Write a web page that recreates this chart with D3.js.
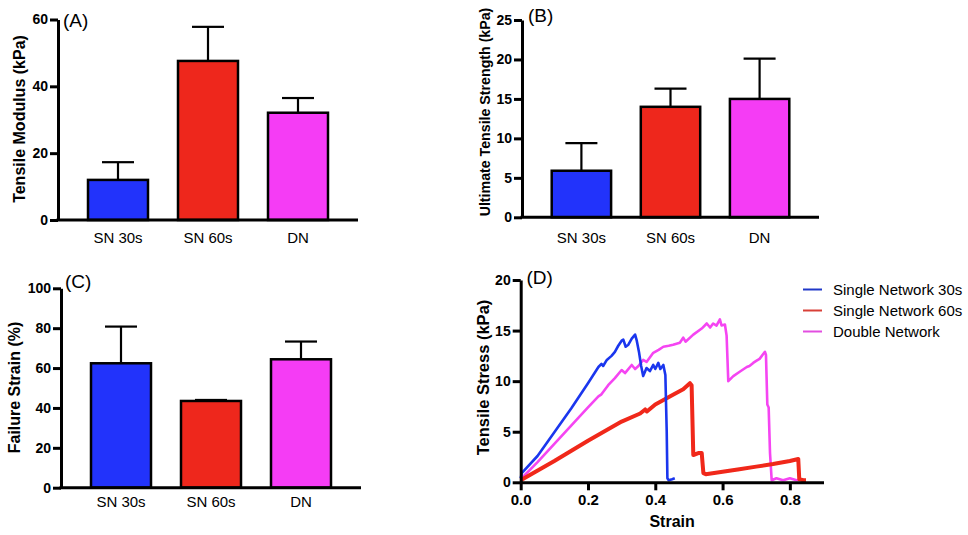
<!DOCTYPE html>
<html>
<head>
<meta charset="utf-8">
<script src="https://cdn.jsdelivr.net/npm/d3@7"></script>
<style>
  html, body { margin: 0; padding: 0; background: #fff; }
  svg { display: block; font-family: "Liberation Sans", Arial, Helvetica, sans-serif; }
</style>
</head>
<body>
<svg id="chart" width="968" height="535"></svg>
<script>
// ---------------- DATA ----------------
const categories = ["SN 30s", "SN 60s", "DN"];
const barColors = ["#2233fb", "#ee271c", "#f53cf5"];

// (A) Tensile modulus (kPa): mean and SD
const modulusMean = [12.0, 47.6, 32.1];
const modulusErr  = [5.3, 10.2, 4.4];
const modulusTicks = [0, 20, 40, 60];

// (B) Ultimate tensile strength (kPa)
const utsMean = [5.9, 14.0, 15.0];
const utsErr  = [3.5, 2.3, 5.1];
const utsTicks = [0, 5, 10, 15, 20, 25];

// (C) Failure strain (%)
const strainMean = [62.4, 43.5, 64.4];
const strainErr  = [18.4, 0.5, 8.9];
const strainTicks = [0, 20, 40, 60, 80, 100];

// (D) Stress-strain curves: [strain, stress kPa]
const sn30Curve = [
  [0,0.4],[0.003,0.9],[0.05,2.6],[0.1,4.95],[0.15,7.3],[0.2,9.8],[0.231,11.4],[0.24,11.7],
  [0.245,11.5],[0.256,12.1],[0.27,12.5],[0.28,12.9],[0.29,13.5],[0.3,14.0],[0.305,14.1],
  [0.312,13.4],[0.32,13.6],[0.33,14.2],[0.34,14.6],[0.345,14.0],[0.352,12.8],[0.358,11.5],
  [0.364,10.5],[0.374,11.3],[0.384,11.0],[0.394,11.6],[0.40,11.2],[0.409,11.8],[0.415,11.2],
  [0.424,11.6],[0.43,10.6],[0.434,5.0],[0.436,0.4],[0.44,0.2],[0.45,0.3],[0.458,0.4]
];
const sn60Curve = [
  [0,0.2],[0.1,2.1],[0.2,4.1],[0.3,6.0],[0.355,6.8],[0.37,7.2],[0.375,7.0],[0.4,7.7],
  [0.45,8.6],[0.483,9.2],[0.503,9.8],[0.508,9.6],[0.513,2.7],[0.53,2.9],[0.538,2.9],
  [0.543,0.9],[0.55,0.8],[0.6,1.05],[0.65,1.3],[0.7,1.55],[0.75,1.8],[0.8,2.1],[0.825,2.3],
  [0.828,0.3],[0.84,0.2],[0.848,0.2]
];
const dnCurve = [
  [0,0.3],[0.05,2.0],[0.1,3.8],[0.15,5.6],[0.2,7.4],[0.231,8.5],[0.24,8.7],[0.26,9.6],
  [0.28,10.3],[0.3,11.1],[0.31,10.8],[0.33,11.6],[0.34,11.2],[0.35,11.5],[0.364,12.1],
  [0.374,11.9],[0.394,12.8],[0.41,13.1],[0.424,13.4],[0.44,13.5],[0.453,13.6],[0.473,13.8],
  [0.483,14.3],[0.49,13.9],[0.513,14.6],[0.538,15.2],[0.553,15.7],[0.563,15.3],[0.572,15.7],
  [0.582,15.5],[0.592,16.1],[0.597,15.5],[0.607,15.6],[0.612,14.5],[0.617,10.0],[0.632,10.5],
  [0.652,10.95],[0.672,11.4],[0.68,11.5],[0.691,11.8],[0.70,12.0],[0.71,12.2],[0.726,12.9],
  [0.729,12.6],[0.733,7.7],[0.737,7.4],[0.741,2.9],[0.746,0.2],[0.76,0.4],[0.78,0.2],
  [0.8,0.4],[0.82,0.2],[0.84,0.3]
];
const curveColors = ["#1a36ee", "#f0281a", "#f545f2"];
const legendLabels = ["Single Network 30s", "Single Network 60s", "Double Network"];
const legendColors = ["#2038c8", "#d84038", "#e24ee0"];
const stressTicks = [0, 5, 10, 15, 20];
const strainXTicks = [0, 0.2, 0.4, 0.6, 0.8];

// ---------------- DRAW ----------------
const svg = d3.select("#chart");
svg.append("rect").attr("width", 968).attr("height", 535).attr("fill", "#fff");

function styleAxis(g) {
  g.selectAll(".domain").attr("stroke", "#000").attr("stroke-width", 3);
  g.selectAll(".tick line").attr("stroke", "#000").attr("stroke-width", 3);
  g.selectAll(".tick text").attr("fill", "#000")
    .style("font-family", '"Liberation Sans", Arial, sans-serif')
    .style("font-weight", "bold").style("font-size", "14px");
}

function barPanel(p) {
  const x = d3.scaleBand().domain(categories).range([p.x0, p.x1])
    .paddingInner(1/3).paddingOuter(1/3);
  const y = d3.scaleLinear().domain([0, p.max]).range([p.yb, p.yt]);
  const g = svg.append("g");

  // bars
  g.selectAll("rect.bar").data(categories).join("rect")
    .attr("x", d => x(d)).attr("width", x.bandwidth())
    .attr("y", (d, i) => y(p.mean[i]))
    .attr("height", (d, i) => y(0) - y(p.mean[i]))
    .attr("fill", (d, i) => barColors[i])
    .attr("stroke", "#000").attr("stroke-width", 2.5);

  // error bars (upper)
  const cap = 16;
  categories.forEach((c, i) => {
    const cx = x(c) + x.bandwidth() / 2;
    g.append("line").attr("x1", cx).attr("x2", cx)
      .attr("y1", y(p.mean[i])).attr("y2", y(p.mean[i] + p.err[i]))
      .attr("stroke", "#000").attr("stroke-width", 2.2);
    g.append("line").attr("x1", cx - cap).attr("x2", cx + cap)
      .attr("y1", y(p.mean[i] + p.err[i])).attr("y2", y(p.mean[i] + p.err[i]))
      .attr("stroke", "#000").attr("stroke-width", 2.2);
  });

  // y axis
  const ya = g.append("g").attr("transform", `translate(${p.x0},0)`)
    .call(d3.axisLeft(y).tickValues(p.ticks).tickSize(8).tickSizeOuter(0).tickPadding(2));
  styleAxis(ya);

  // x axis baseline
  g.append("line").attr("x1", p.x0 - 1.5).attr("x2", p.x1)
    .attr("y1", y(0)).attr("y2", y(0))
    .attr("stroke", "#000").attr("stroke-width", 3);

  // category labels
  g.selectAll("text.cat").data(categories).join("text")
    .attr("x", d => x(d) + x.bandwidth() / 2).attr("y", p.catY)
    .attr("text-anchor", "middle").style("font-size", "15px").text(d => d);

  // y label
  g.append("text")
    .attr("transform", `translate(${p.labX},${p.labY}) rotate(-90)`)
    .attr("text-anchor", "middle").style("font-weight", "bold")
    .style("font-size", p.labSize + "px").text(p.label);

  // panel letter
  g.append("text").attr("x", p.letX).attr("y", p.letY)
    .style("font-size", "19px").text(p.letter);
}

barPanel({x0: 58, x1: 358, yb: 220, yt: 19.5, max: 60, mean: modulusMean, err: modulusErr,
  ticks: modulusTicks, catY: 243, label: "Tensile Modulus (kPa)", labX: 25, labY: 119, labSize: 16,
  letter: "(A)", letX: 63, letY: 27});
barPanel({x0: 522, x1: 819, yb: 217.3, yt: 20, max: 25, mean: utsMean, err: utsErr,
  ticks: utsTicks, catY: 243, label: "Ultimate Tensile Strength (kPa)", labX: 490, labY: 112, labSize: 14.2,
  letter: "(B)", letX: 528, letY: 22});
barPanel({x0: 61, x1: 361, yb: 487.7, yt: 288.3, max: 100, mean: strainMean, err: strainErr,
  ticks: strainTicks, catY: 506.5, label: "Failure Strain (%)", labX: 19.5, labY: 387.5, labSize: 16,
  letter: "(C)", letX: 65, letY: 288});

// ---------- Panel D ----------
(function () {
  const x = d3.scaleLinear().domain([0, 0.9]).range([520.7, 823.5]);
  const y = d3.scaleLinear().domain([0, 20]).range([482.3, 280]);
  const g = svg.append("g");
  const line = d3.line().x(d => x(d[0])).y(d => y(d[1]));

  const curves = [dnCurve, sn60Curve, sn30Curve];
  const cols = [curveColors[2], curveColors[1], curveColors[0]];
  const widths = [2.6, 4, 2.6];
  curves.forEach((c, i) => {
    g.append("path").attr("d", line(c)).attr("fill", "none")
      .attr("stroke", cols[i]).attr("stroke-width", widths[i])
      .attr("stroke-linejoin", "round");
  });

  const ya = g.append("g").attr("transform", `translate(${x(0)},0)`)
    .call(d3.axisLeft(y).tickValues(stressTicks).tickSize(8).tickSizeOuter(0).tickPadding(2));
  styleAxis(ya);
  const xa = g.append("g").attr("transform", `translate(0,${y(0)})`)
    .call(d3.axisBottom(x).tickValues(strainXTicks).tickFormat(d3.format(".1f"))
      .tickSize(8).tickSizeOuter(0).tickPadding(4));
  styleAxis(xa);
  xa.selectAll(".tick text").style("font-size", "15px");

  g.append("text").attr("x", (x(0) + x(0.9)) / 2).attr("y", 526.5)
    .attr("text-anchor", "middle").style("font-weight", "bold").style("font-size", "16px")
    .text("Strain");
  g.append("text")
    .attr("transform", `translate(489,377.5) rotate(-90)`)
    .attr("text-anchor", "middle").style("font-weight", "bold").style("font-size", "16.5px")
    .text("Tensile Stress (kPa)");
  g.append("text").attr("x", 526.5).attr("y", 284).style("font-size", "19px").text("(D)");

  // legend
  const lg = svg.append("g");
  legendLabels.forEach((t, i) => {
    const ly = 289.5 + i * 21;
    lg.append("line").attr("x1", 803).attr("x2", 822).attr("y1", ly).attr("y2", ly)
      .attr("stroke", legendColors[i]).attr("stroke-width", 2);
    lg.append("text").attr("x", 833).attr("y", ly + 5)
      .style("font-size", "15px").text(t);
  });
})();
</script>
</body>
</html>
